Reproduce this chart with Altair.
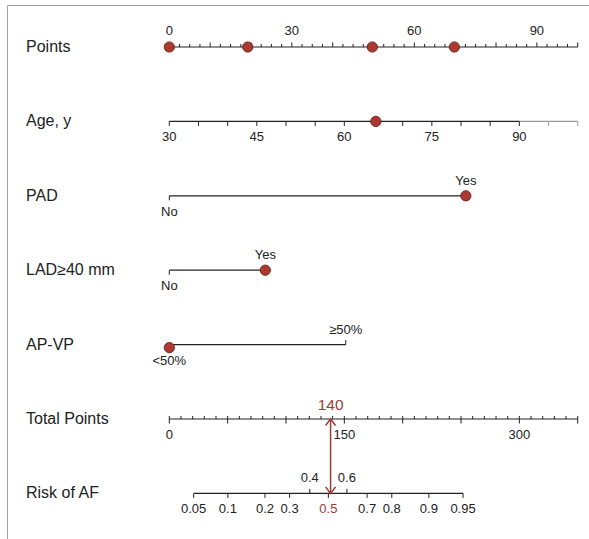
import altair as alt
import pandas as pd
import numpy as np

# ---------------- data ----------------
rows = ["Points", "Age, y", "PAD", "LAD≥40 mm", "AP-VP", "Total Points", "Risk of AF"]

points_minor = [i * 2.5 for i in range(41)]
points_major = list(range(0, 101, 10))
points_labels = [0, 30, 60, 90]
points_dots = [0, 19.2, 49.7, 69.8]

age_axis = [30, 100]
age_data_max = 90
age_ticks = list(range(30, 101, 5))
age_labels = [30, 45, 60, 75, 90]
age_value = 65.4

pad_levels = ["No", "Yes"]
pad_points = [0, 72.6]
pad_value = "Yes"
lad_levels = ["No", "Yes"]
lad_points = [0, 23.5]
lad_value = "Yes"
apvp_levels = ["<50%", "≥50%"]
apvp_points = [0, 43.2]
apvp_value = "<50%"

total_axis = [0, 350]
total_minor = list(range(0, 351, 10))
total_major = list(range(0, 351, 50))
total_labels = [0, 150, 300]
total_value = 138.2
total_text = "140"

risk_ticks = [0.05, 0.1, 0.2, 0.3, 0.4, 0.5, 0.6, 0.7, 0.8, 0.9, 0.95]
risk_above = [0.4, 0.6]
risk_highlight = 0.5
risk_intercept = 136.3   # total points at logit = 0
risk_slope = 39.2        # total points per logit unit

# ---------------- conversions to the common points scale ----------------
R = {name: i for i, name in enumerate(rows)}


def age_pts(a):
    return (a - age_axis[0]) * 100 / (age_axis[1] - age_axis[0])


def tot_pts(t):
    return t * 100 / total_axis[1]


def risk_pts(p):
    return tot_pts(risk_intercept + risk_slope * np.log(p / (1 - p)))


# baselines
lines = [
    ("Points", 0, 100, "main"),
    ("Age, y", age_pts(age_axis[0]), age_pts(age_data_max), "main"),
    ("Age, y", age_pts(age_data_max), age_pts(age_axis[1]), "grey"),
    ("PAD", pad_points[0], pad_points[1], "main"),
    ("LAD≥40 mm", lad_points[0], lad_points[1], "main"),
    ("AP-VP", apvp_points[0], apvp_points[1], "main"),
    ("Total Points", 0, tot_pts(total_axis[1]), "main"),
    ("Risk of AF", risk_pts(risk_ticks[0]), risk_pts(risk_ticks[-1]), "main"),
]
lines_df = pd.DataFrame(lines, columns=["row", "x1", "x2", "tone"])
lines_df["r"] = lines_df["row"].map(R)

# ticks
ticks = []
for v in points_minor:
    ticks.append(("Points", v, "up_major" if v in points_major else "up_minor", "main"))
for v in age_ticks:
    ticks.append(("Age, y", age_pts(v), "down", "grey" if v > age_data_max else "main"))
for row, pts in (("PAD", pad_points), ("LAD≥40 mm", lad_points), ("AP-VP", apvp_points)):
    ticks.append((row, pts[0], "down", "main"))
    ticks.append((row, pts[1], "up_major", "main"))
for v in total_minor:
    ticks.append(("Total Points", tot_pts(v), "up_minor", "main"))
for v in total_major:
    ticks.append(("Total Points", tot_pts(v), "down", "main"))
for p in risk_ticks:
    ticks.append(("Risk of AF", risk_pts(p), "up_major" if p in risk_above else "down", "main"))
ticks_df = pd.DataFrame(ticks, columns=["row", "pos", "kind", "tone"])
ticks_df["r"] = ticks_df["row"].map(R)

# texts
texts = []
for v in points_labels:
    texts.append(("Points", v, str(v), "top", "main"))
for v in age_labels:
    texts.append(("Age, y", age_pts(v), str(v), "below", "main"))
for row, lev, pts in (("PAD", pad_levels, pad_points), ("LAD≥40 mm", lad_levels, lad_points),
                      ("AP-VP", apvp_levels, apvp_points)):
    texts.append((row, pts[0], lev[0], "below", "main"))
    texts.append((row, pts[1], lev[1], "above", "main"))
for v in total_labels:
    texts.append(("Total Points", tot_pts(v), str(v), "below", "main"))
texts.append(("Total Points", tot_pts(total_value), total_text, "value", "red"))
for p in risk_ticks:
    side = "above" if p in risk_above else "below"
    tone = "red" if p == risk_highlight else "main"
    texts.append(("Risk of AF", risk_pts(p), f"{p:g}", side, tone))
texts_df = pd.DataFrame(texts, columns=["row", "pos", "text", "side", "tone"])
texts_df["r"] = texts_df["row"].map(R)

# dots
dots = [("Points", v) for v in points_dots]
dots += [("Age, y", age_pts(age_value)),
         ("PAD", pad_points[pad_levels.index(pad_value)]),
         ("LAD≥40 mm", lad_points[lad_levels.index(lad_value)])]
dots_df = pd.DataFrame(dots, columns=["row", "pos"])
dots_df["r"] = dots_df["row"].map(R)
dots2_df = pd.DataFrame([("AP-VP", apvp_points[apvp_levels.index(apvp_value)])], columns=["row", "pos"])
dots2_df["r"] = dots2_df["row"].map(R)

arrow_df = pd.DataFrame({"pos": [tot_pts(total_value)], "r": [R["Total Points"]], "r2": [R["Risk of AF"]]})
labels_df = pd.DataFrame({"row": rows, "r": [R[x] for x in rows]})

# ---------------- chart ----------------
W, H = 581, 533
xscale = alt.Scale(domain=[-39.62, 102.64], nice=False, zero=False)
yscale = alt.Scale(domain=[-0.5578, 6.606], nice=False, zero=False, reverse=True)
FONT = "Liberation Sans"
INK = "#222222"
RED = "#a33a35"
tone_scale = alt.Scale(domain=["main", "grey", "red"], range=[INK, "#9a9a9a", RED])


def X(f="pos"):
    return alt.X(f, type="quantitative", scale=xscale, axis=None)


def Y(f="r"):
    return alt.Y(f, type="quantitative", scale=yscale, axis=None)


tone = alt.Color("tone:N", scale=tone_scale, legend=None)

base_lines = alt.Chart(lines_df).mark_rule(strokeWidth=1.2).encode(
    x=X("x1"), x2="x2:Q", y=Y(), color=tone)

tick_layers = []
for kind, off in (("up_minor", -3), ("up_major", -4.5), ("down", 4.5)):
    tick_layers.append(
        alt.Chart(ticks_df).transform_filter(alt.datum.kind == kind)
        .mark_rule(strokeWidth=1, y2Offset=off)
        .encode(x=X(), y=Y(), y2="r:Q", color=tone))

text_layers = []
for side, dy, size in (("top", -16, 13), ("above", -15, 13), ("below", 16, 13), ("value", -14, 15.5)):
    text_layers.append(
        alt.Chart(texts_df).transform_filter(alt.datum.side == side)
        .mark_text(dy=dy, fontSize=size, font=FONT, baseline="middle", align="center")
        .encode(x=X(), y=Y(), text="text:N", color=tone))

dot_style = dict(filled=True, size=105, fill="#a83a32", stroke="#7e2420", strokeWidth=1, opacity=1)
dots_layer = alt.Chart(dots_df).mark_point(**dot_style).encode(x=X(), y=Y())
dots2_layer = alt.Chart(dots2_df).mark_point(yOffset=3, **dot_style).encode(x=X(), y=Y())

shaft = alt.Chart(arrow_df).mark_rule(color=RED, strokeWidth=1.5).encode(x=X(), y=Y(), y2="r2:Q")
head_up = alt.Chart(arrow_df).mark_point(
    shape="M -1 1.3 L 0 0 L 1 1.3", filled=False, size=100, color=RED, strokeWidth=1.5, opacity=1
).encode(x=X(), y=Y())
head_down = alt.Chart(arrow_df).mark_point(
    shape="M -1 -1.3 L 0 0 L 1 -1.3", filled=False, size=100, color=RED, strokeWidth=1.5, opacity=1
).encode(x=X(), y=Y("r2"))

row_labels = alt.Chart(labels_df).mark_text(
    align="left", baseline="middle", fontSize=16, font=FONT, color=INK
).encode(x=alt.value(18.5), y=Y(), text="row:N")

frame_df = pd.DataFrame({"k": [0]})
frame_top = alt.Chart(frame_df).mark_rule(color="#a0a0a0", strokeWidth=1).encode(
    x=alt.value(0), x2=alt.value(W + 20), y=alt.value(0))
frame_left = alt.Chart(frame_df).mark_rule(color="#a0a0a0", strokeWidth=1).encode(
    x=alt.value(0), y=alt.value(0), y2=alt.value(H + 20))

chart = alt.layer(
    frame_top, frame_left, base_lines, *tick_layers, shaft, head_up, head_down,
    dots_layer, dots2_layer, *text_layers, row_labels
).properties(
    width=W, height=H,
    autosize=alt.AutoSizeParams(type="none"),
    padding={"left": 7.5, "top": 5.5, "right": 0.5, "bottom": 0.5},
    background="white",
).configure_view(stroke=None)

chart.save("out.html", embed_options={"renderer": "svg", "actions": False})
